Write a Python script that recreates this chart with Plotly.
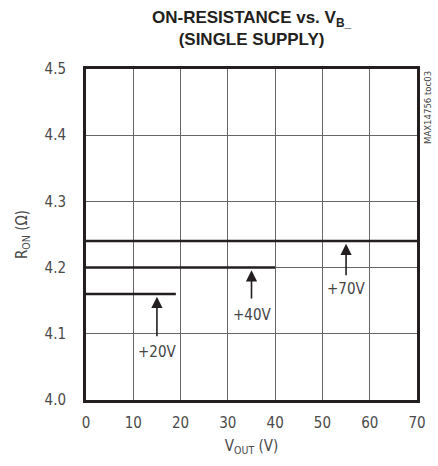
import plotly.graph_objects as go

# Data
supply_labels = ["+20V", "+40V", "+70V"]
ron_values = [4.16, 4.20, 4.24]
vout_max = [19, 40, 70]
arrow_x = [15, 35, 55]
arrow_tail = [4.094, 4.151, 4.186]
label_y = [4.072, 4.128, 4.167]

x_ticks = [0, 10, 20, 30, 40, 50, 60, 70]
y_ticks = [4.0, 4.1, 4.2, 4.3, 4.4, 4.5]

FONT = "DejaVu Sans Condensed, Liberation Sans, Arial, sans-serif"
TFONT = "Liberation Sans, Arial, sans-serif"

fig = go.Figure()
for lab, r, vm in zip(supply_labels, ron_values, vout_max):
    fig.add_trace(go.Scatter(x=[0, vm], y=[r, r], mode="lines",
                             line=dict(color="#231f20", width=2.5),
                             name=lab, showlegend=False, hoverinfo="skip"))

for lab, ax, tail, ly, r in zip(supply_labels, arrow_x, arrow_tail, label_y, ron_values):
    fig.add_annotation(x=ax, y=r - 0.004, ax=ax, ay=tail, xref="x", yref="y",
                       axref="x", ayref="y", text="", showarrow=True,
                       arrowhead=2, arrowsize=1.4, arrowwidth=1.6,
                       arrowcolor="#231f20")
    fig.add_annotation(x=ax, y=ly, xref="x", yref="y", text=lab,
                       showarrow=False, font=dict(family=FONT, size=15, color="#444444"))

fig.add_annotation(x=1.0, y=1.0, xref="paper", yref="paper", xanchor="left", yanchor="top",
                   xshift=3, text="MAX14756 toc03", textangle=-90, showarrow=False,
                   font=dict(family=FONT, size=9.5, color="#444444"))

fig.add_annotation(x=0.5, y=1.0, xref="paper", yref="paper", xanchor="center", yanchor="bottom",
                   yshift=18, text="<b>ON-RESISTANCE vs. V<sub>B_</sub><br>(SINGLE SUPPLY)</b>",
                   showarrow=False, font=dict(family=TFONT, size=17, color="#231f20"))

fig.update_layout(
    width=438, height=466,
    margin=dict(l=86, r=21, t=69, b=66),
    paper_bgcolor="white", plot_bgcolor="white",
    xaxis=dict(range=[0, 70], tickvals=x_ticks, ticks="", showgrid=True,
               gridcolor="#666666", gridwidth=1, zeroline=False, automargin=False,
               showline=True, linecolor="#231f20", linewidth=3, mirror=True,
               ticklabelstandoff=7,
               tickfont=dict(family=FONT, size=15, color="#4a4a4a"),
               title=dict(text="V<sub>OUT</sub> (V)", standoff=10,
                          font=dict(family=FONT, size=15, color="#4a4a4a"))),
    yaxis=dict(range=[4.0, 4.5], tickvals=y_ticks, tickformat=".1f", ticks="",
               showgrid=True, gridcolor="#666666", gridwidth=1, zeroline=False,
               automargin=False, ticklabelstandoff=14,
               showline=True, linecolor="#231f20", linewidth=3, mirror=True,
               tickfont=dict(family=FONT, size=15, color="#4a4a4a"),
               title=dict(text="R<sub>ON</sub> (Ω)", standoff=14,
                          font=dict(family=FONT, size=15, color="#4a4a4a"))),
)

fig.write_html("out.html", config={"displayModeBar": False},
               post_script="document.body.style.margin='0';")
